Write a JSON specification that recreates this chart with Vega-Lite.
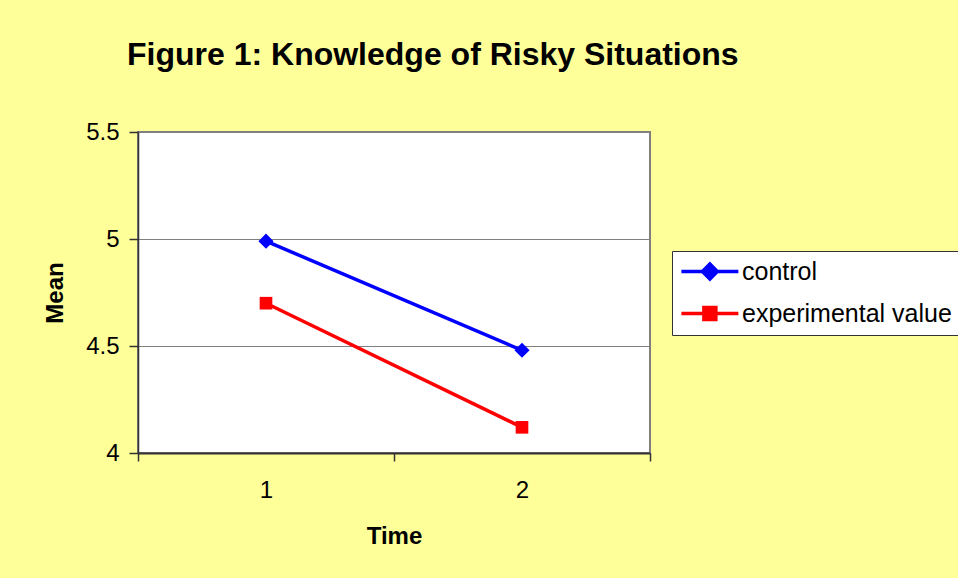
{
  "$schema": "https://vega.github.io/schema/vega-lite/v6.json",
  "autosize": "none",
  "width": 512,
  "height": 321,
  "padding": {"left": 138, "top": 132, "right": 308, "bottom": 125},
  "background": "#FFFF99",
  "config": {
    "font": "Liberation Sans",
    "view": {"fill": "#FFFFFF", "stroke": "#808080", "strokeWidth": 2}
  },
  "title": {
    "text": "Figure 1: Knowledge of Risky Situations",
    "anchor": "start",
    "frame": "group",
    "dx": -11,
    "offset": 23,
    "baseline": "alphabetic",
    "fontSize": 32,
    "fontWeight": "bold",
    "color": "#000000"
  },
  "data": {
    "values": [
      {"time": "1", "group": "control", "mean": 4.99},
      {"time": "2", "group": "control", "mean": 4.48},
      {"time": "1", "group": "experimental value", "mean": 4.70},
      {"time": "2", "group": "experimental value", "mean": 4.12}
    ]
  },
  "encoding": {
    "x": {
      "field": "time",
      "type": "ordinal",
      "scale": {"type": "band", "paddingInner": 0, "paddingOuter": 0},
      "axis": {
        "title": "Time",
        "titleFontSize": 24,
        "titleFontWeight": "bold",
        "titleColor": "#000000",
        "titlePadding": 22,
        "labelAngle": 0,
        "labelFontSize": 24,
        "labelColor": "#000000",
        "labelPadding": 17,
        "tickBand": "extent",
        "tickSize": 8,
        "tickColor": "#333333",
        "tickWidth": 1.5,
        "domainColor": "#333333",
        "domainWidth": 2,
        "grid": false
      }
    },
    "y": {
      "field": "mean",
      "type": "quantitative",
      "scale": {"domain": [4, 5.5], "nice": false, "zero": false},
      "axis": {
        "title": "Mean",
        "titleFontSize": 24,
        "titleFontWeight": "bold",
        "titleColor": "#000000",
        "titlePadding": 18,
        "values": [4, 4.5, 5, 5.5],
        "format": "~g",
        "labelFontSize": 24,
        "labelColor": "#000000",
        "labelPadding": 10,
        "tickSize": 9,
        "tickColor": "#333333",
        "tickWidth": 1.5,
        "domainColor": "#333333",
        "domainWidth": 1.5,
        "grid": true,
        "gridColor": "#808080",
        "gridWidth": 1.2
      }
    }
  },
  "layer": [
    {
      "mark": {"type": "line", "strokeWidth": 3.5},
      "encoding": {
        "color": {
          "field": "group",
          "type": "nominal",
          "scale": {"domain": ["control", "experimental value"], "range": ["#0000FF", "#FF0000"]},
          "legend": {
            "title": null,
            "orient": "none",
            "legendX": 534,
            "legendY": 119,
            "fillColor": "#FFFFFF",
            "strokeColor": "#333333",
            "padding": 8,
            "labelFontSize": 25,
            "labelColor": "#000000",
            "labelOffset": 37,
            "labelLimit": 0,
            "rowPadding": 14,
            "symbolType": "M-1.56,0H6.44M1.4,0L2.44,-1.04L3.48,0L2.44,1.04Z",
            "symbolSize": 203,
            "symbolStrokeWidth": 3.5,
            "encode": {
              "symbols": {
                "update": {
                  "shape": {"signal": "datum.value === 'control' ? 'M-1.56,0H6.44M1.4,0L2.44,-1.04L3.48,0L2.44,1.04Z' : 'M-1.56,0H6.44M1.6,-0.84H3.28V0.84H1.6Z'"},
                  "fill": {"scale": "color", "field": "value"},
                  "stroke": {"scale": "color", "field": "value"},
                  "strokeWidth": {"value": 3.5},
                  "size": {"value": 203}
                }
              }
            }
          }
        }
      }
    },
    {
      "transform": [{"filter": "datum.group === 'control'"}],
      "mark": {"type": "point", "filled": true, "opacity": 1, "shape": "diamond", "size": 230, "color": "#0000FF"}
    },
    {
      "transform": [{"filter": "datum.group === 'experimental value'"}],
      "mark": {"type": "point", "filled": true, "opacity": 1, "shape": "square", "size": 160, "color": "#FF0000"}
    }
  ]
}
